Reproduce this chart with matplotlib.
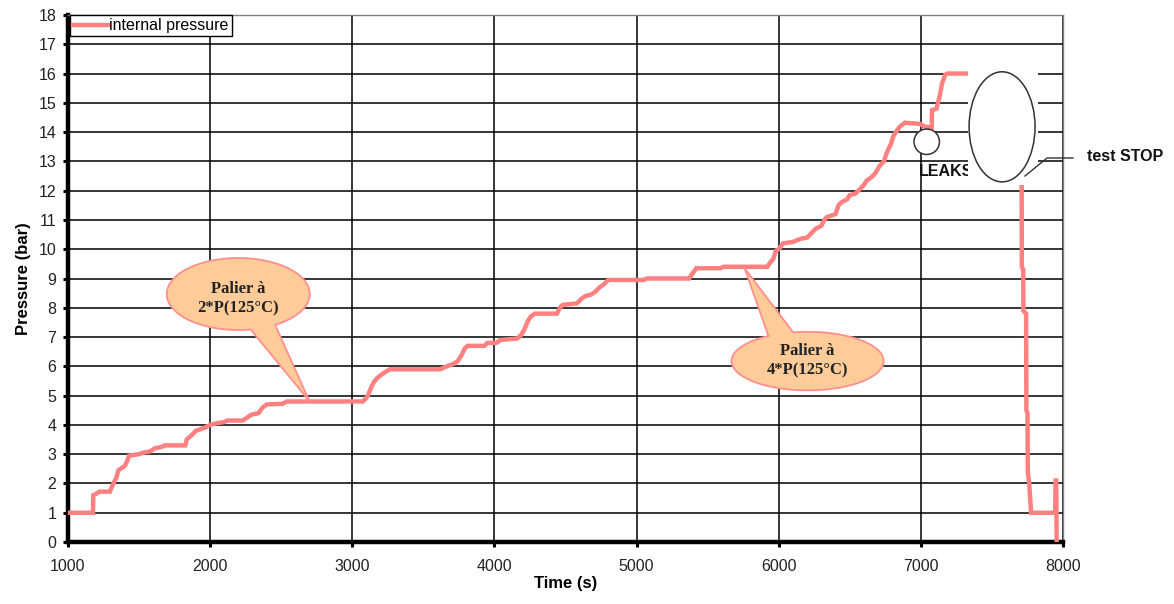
import numpy as np
import matplotlib
matplotlib.use("Agg")
from matplotlib import pyplot as plt
from matplotlib.patches import Ellipse, Rectangle, Polygon
from matplotlib.lines import Line2D

plt.rcParams['font.family'] = ['Liberation Sans', 'DejaVu Sans']

# pressure record (time in s, pressure in bar)
time_s = [1000, 1176, 1178, 1200, 1220, 1295, 1305, 1320, 1340, 1355, 1370, 1400,
          1415, 1430, 1500, 1530, 1580, 1610, 1660, 1680, 1825, 1835, 1870, 1900,
          1960, 2000, 2040, 2100, 2120, 2230, 2260, 2290, 2340, 2370, 2400, 2510,
          2540, 3075, 3095, 3110, 3130, 3150, 3175, 3200, 3230, 3265, 3617, 3640,
          3665, 3720, 3745, 3770, 3790, 3810, 3930, 3950, 4015, 4040, 4160, 4185,
          4210, 4235, 4255, 4285, 4440, 4460, 4480, 4580, 4610, 4640, 4680, 4710,
          4740, 4770, 4800, 5050, 5070, 5370, 5390, 5420, 5590, 5610, 5920, 5940,
          5960, 5980, 6000, 6030, 6100, 6150, 6200, 6230, 6260, 6300, 6320, 6340,
          6400, 6420, 6440, 6480, 6500, 6540, 6570, 6600, 6620, 6650, 6680, 6710,
          6740, 6760, 6790, 6805, 6830, 6855, 6888, 6995, 7020, 7076, 7078, 7110,
          7135, 7148, 7170, 7185, 7700, 7709, 7710, 7720, 7721, 7740, 7742, 7750,
          7752, 7762, 7775, 7945, 7947, 7952, 7955]
pressure = [1.0, 1.0, 1.6, 1.65, 1.72, 1.72, 1.85, 2.0, 2.2, 2.45, 2.5, 2.6,
            2.75, 2.95, 3.0, 3.05, 3.1, 3.2, 3.25, 3.3, 3.3, 3.5, 3.65, 3.8,
            3.9, 4.0, 4.05, 4.1, 4.15, 4.15, 4.25, 4.35, 4.4, 4.6, 4.7, 4.72,
            4.8, 4.8, 4.9, 5.0, 5.25, 5.45, 5.6, 5.7, 5.8, 5.9, 5.9, 5.95,
            6.0, 6.1, 6.2, 6.4, 6.6, 6.7, 6.7, 6.8, 6.8, 6.9, 6.95, 7.05,
            7.25, 7.55, 7.7, 7.8, 7.8, 8.0, 8.1, 8.15, 8.3, 8.4, 8.45, 8.55,
            8.7, 8.8, 8.95, 8.95, 9.0, 9.0, 9.15, 9.35, 9.35, 9.4, 9.4, 9.55,
            9.65, 9.95, 10.0, 10.2, 10.25, 10.35, 10.4, 10.55, 10.7, 10.8, 11.0, 11.1,
            11.2, 11.5, 11.6, 11.7, 11.85, 11.9, 12.05, 12.2, 12.35, 12.45, 12.6, 12.85,
            13.0, 13.3, 13.6, 13.85, 14.05, 14.2, 14.32, 14.28, 14.2, 14.15, 14.75, 14.8,
            15.3, 15.65, 15.95, 16.0, 16.0, 12.2, 9.4, 9.3, 7.9, 7.8, 4.5, 4.4,
            2.4, 2.0, 1.0, 1.0, 2.1, 2.1, 0.0]

x_ticks = [1000, 2000, 3000, 4000, 5000, 6000, 7000, 8000]
y_ticks = list(range(0, 19))

RED = '#FF8080'

fig = plt.figure(figsize=(11.74, 6.04), dpi=100)
ax = fig.add_axes([0.0579, 0.1026, 0.8476, 0.8726])

ax.plot(time_s, pressure, color=RED, lw=3.2, label='internal pressure', zorder=3,
        solid_joinstyle='miter')

ax.set_xlim(1000, 8000)
ax.set_ylim(0, 18)
ax.set_xticks(x_ticks)
ax.set_yticks(y_ticks)
ax.grid(True, color='black', lw=1.1)
ax.set_axisbelow(True)

for s in ['left', 'bottom']:
    ax.spines[s].set_linewidth(3.2)
    ax.spines[s].set_color('black')
for s in ['top', 'right']:
    ax.spines[s].set_linewidth(1)
    ax.spines[s].set_color('#808080')
ax.tick_params(axis='y', direction='out', length=3.5, width=2.2, pad=5,
               labelsize=11.5, colors='black')
ax.tick_params(axis='x', direction='out', length=3.5, width=2.2, pad=9,
               labelsize=11.5, colors='black')
for lab in ax.get_xticklabels() + ax.get_yticklabels():
    lab.set_color('#222222')

ax.set_xlabel('Time (s)', fontsize=12, fontweight='bold', labelpad=1)
ax.set_ylabel('Pressure (bar)', fontsize=12, fontweight='bold', labelpad=5)

leg = ax.legend(loc='upper left', bbox_to_anchor=(0.002, 1), borderaxespad=0,
                fancybox=False, edgecolor='black', framealpha=1, fontsize=11.5,
                handlelength=2.2, handletextpad=0.05, borderpad=0.2)
leg.get_frame().set_linewidth(1)
leg.set_zorder(10)


# speech-bubble callouts: ellipse with a tail pointing to the curve
def callout(cx, cy, rx, ry, a1, a2, tip, text, dy=0.0):
    lo, hi = sorted([a1, a2])
    th = np.radians(np.linspace(hi, lo + 360, 120))
    pts = np.column_stack([cx + rx * np.cos(th), cy + ry * np.sin(th)])
    pts = np.vstack([pts, [tip]])
    ax.add_patch(Polygon(pts, closed=True, facecolor='#FFCC99', edgecolor='#FF8F8F',
                         lw=1.3, zorder=5))
    ax.text(cx, cy + dy, text, ha='center', va='center', fontsize=12,
            fontweight='bold', family='Liberation Serif', linespacing=1.3,
            color='#222222', zorder=6)


callout(2198, 8.47, 503, 1.23, -80, -59, (2700, 4.8), 'Palier à\n2*P(125°C)', dy=-0.15)
callout(6203, 6.18, 535, 1.0, 101, 121, (5760, 9.35), 'Palier à\n4*P(125°C)')

# leak marks
ax.text(6987, 12.65, 'LEAKS', ha='left', va='center', fontsize=11.5,
        fontweight='bold', color='#111111', zorder=4)
ax.add_patch(Rectangle((7332, 12.2), 492, 4.2, facecolor='white',
                       edgecolor='none', zorder=6))
ax.add_patch(Ellipse((7041, 13.67), 179, 0.87, facecolor='white',
                     edgecolor='#333333', lw=1.1, zorder=7))
ax.add_patch(Ellipse((7571, 14.18), 464, 3.76, facecolor='white',
                     edgecolor='#333333', lw=1.1, zorder=7))

# test STOP label with leader line, outside the axes
W, H = 1174, 604
fig.add_artist(Line2D([1073 / W, 1047 / W, 1025 / W],
                      [1 - 158 / H, 1 - 158 / H, 1 - 176 / H],
                      transform=fig.transFigure, color='#333333', lw=1))
fig.text(1087 / W, 1 - 157 / H, 'test STOP', ha='left', va='center',
         fontsize=11.5, fontweight='bold', color='#111111')

fig.savefig('out.png', dpi=100)
